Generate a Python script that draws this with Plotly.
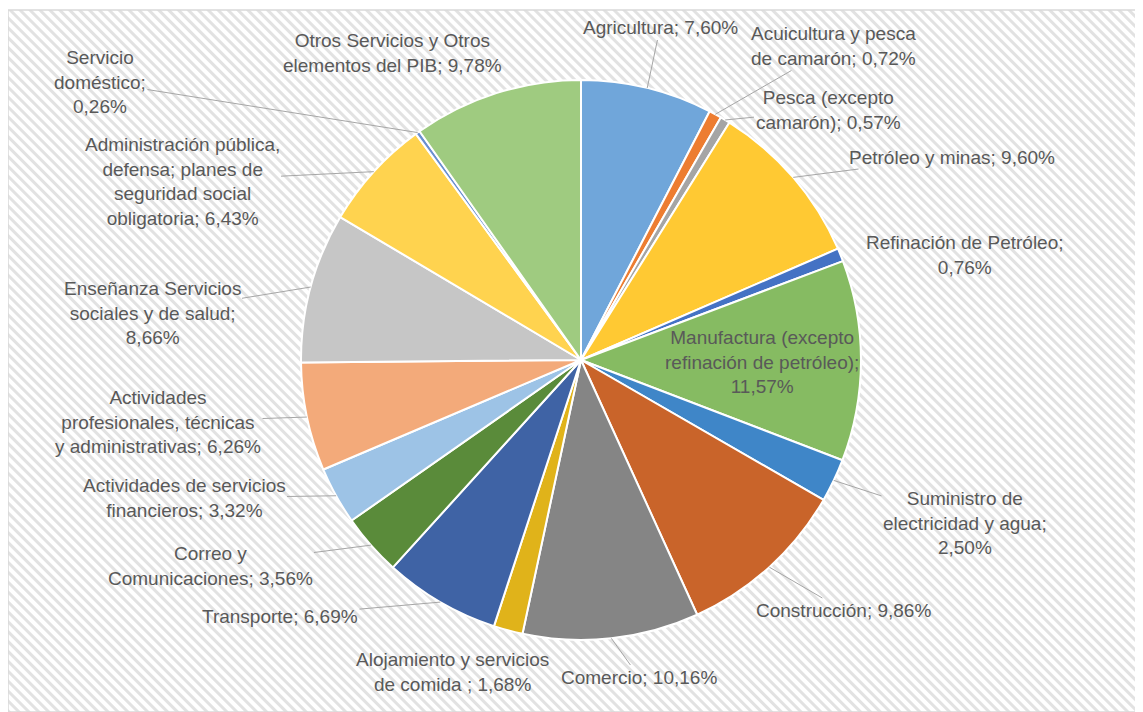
import math
import base64
import plotly.graph_objects as go

# ---------------- data ----------------
categories = [
    "Agricultura",
    "Acuicultura y pesca de camarón",
    "Pesca (excepto camarón)",
    "Petróleo y minas",
    "Refinación de Petróleo",
    "Manufactura (excepto refinación de petróleo)",
    "Suministro de electricidad y agua",
    "Construcción",
    "Comercio",
    "Alojamiento y servicios de comida",
    "Transporte",
    "Correo y Comunicaciones",
    "Actividades de servicios financieros",
    "Actividades profesionales, técnicas y administrativas",
    "Enseñanza Servicios sociales y de salud",
    "Administración pública, defensa; planes de seguridad social obligatoria",
    "Servicio doméstico",
    "Otros Servicios y Otros elementos del PIB",
]
values = [7.60, 0.72, 0.57, 9.60, 0.76, 11.57, 2.50, 9.86, 10.16, 1.68,
          6.69, 3.56, 3.32, 6.26, 8.66, 6.43, 0.26, 9.78]

# wrapped label text ({v} = formatted value)
label_templates = [
    "Agricultura; {v}",
    "Acuicultura y pesca<br>de camarón; {v}",
    "Pesca (excepto<br>camarón); {v}",
    "Petróleo y minas; {v}",
    "Refinación de Petróleo;<br>{v}",
    "Manufactura (excepto<br>refinación de petróleo);<br>{v}",
    "Suministro de<br>electricidad y agua;<br>{v}",
    "Construcción; {v}",
    "Comercio; {v}",
    "Alojamiento y servicios<br>de comida ; {v}",
    "Transporte; {v}",
    "Correo y<br>Comunicaciones; {v}",
    "Actividades de servicios<br>financieros; {v}",
    "Actividades<br>profesionales, técnicas<br>y administrativas; {v}",
    "Enseñanza Servicios<br>sociales y de salud;<br>{v}",
    "Administración pública,<br>defensa; planes de<br>seguridad social<br>obligatoria; {v}",
    "Servicio<br>doméstico;<br>{v}",
    "Otros Servicios y Otros<br>elementos del PIB; {v}",
]

# ---------------- styles / layout ----------------
colors = ["#70a6da", "#ED7D31", "#A5A5A5", "#FFC933", "#4472C4", "#86bb62",
          "#3f86c8", "#c9642a", "#858585", "#e0b31a", "#3f63a5", "#5a8b3a",
          "#9dc3e6", "#f3aa7a", "#c6c6c6", "#ffd34f", "#698ED0", "#9fcb80"]

# page coordinates (the html body adds an 8px margin)
OFF = 8
PW, PH = 1143, 712
W, H = PW - OFF, PH - OFF
CX, CY, R = 581, 360, 280


def px(x):
    return (x - OFF) / W


def py(y):
    return 1 - (y - OFF) / H


# label centres in page pixels and whether a leader line is drawn
label_pos = [
    (660, 28, True), (834, 46, True), (828, 110, True), (952, 157, True),
    (965, 255, False), (762, 362, False), (965, 523, True), (843, 610, True),
    (639, 677, True), (452, 672, False), (280, 616, True), (210, 566, True),
    (184, 498, True), (158, 422, True), (152, 313, True), (182, 181, True),
    (100, 82, True), (392, 53, False),
]

FONT = dict(family="Liberation Sans Narrow, Liberation Sans, Arial, sans-serif",
            size=19, color="#595959")

fig = go.Figure()
fig.add_trace(go.Pie(
    labels=categories, values=values, sort=False, direction="clockwise",
    rotation=0, textinfo="none", showlegend=False,
    marker=dict(colors=colors, line=dict(color="white", width=2)),
    domain=dict(x=[px(CX - R), px(CX + R)], y=[py(CY + R), py(CY - R)]),
))

total = sum(values)
cum = 0.0
annotations = []
for cat, v, tmpl, (lx, ly, arrow) in zip(categories, values, label_templates, label_pos):
    mid = (cum + v / 2) / total * 2 * math.pi
    cum += v
    hx = CX + R * math.sin(mid)
    hy = CY - R * math.cos(mid)
    text = tmpl.format(v=f"{v:.2f}".replace(".", ",") + "%")
    if arrow:
        annotations.append(dict(
            x=px(hx), y=py(hy), xref="paper", yref="paper",
            ax=lx - hx, ay=ly - hy, axref="pixel", ayref="pixel",
            text=text, showarrow=True, arrowhead=0, arrowwidth=1,
            arrowcolor="#a6a6a6", standoff=0, startstandoff=0,
            font=FONT, align="center"))
    else:
        annotations.append(dict(
            x=px(lx), y=py(ly), xref="paper", yref="paper",
            xanchor="center", yanchor="middle", text=text, showarrow=False,
            font=FONT, align="center"))

# hatched background
bw, bh = PW - 8, PH - 10
svg = (f'<svg xmlns="http://www.w3.org/2000/svg" width="{bw}" height="{bh}">'
       '<defs><pattern id="p" width="7" height="7" patternUnits="userSpaceOnUse" '
       'patternTransform="rotate(-45)"><rect width="7" height="7" fill="#ffffff"/>'
       '<rect width="3" height="7" fill="#e2e2e2"/></pattern></defs>'
       '<rect width="100%" height="100%" fill="url(#p)"/></svg>')
src = "data:image/svg+xml;base64," + base64.b64encode(svg.encode()).decode()

fig.update_layout(
    width=W, height=H, margin=dict(l=0, r=0, t=0, b=0),
    paper_bgcolor="white", plot_bgcolor="white",
    annotations=annotations,
    images=[dict(source=src, xref="paper", yref="paper", x=px(8), y=py(10),
                 sizex=bw / W, sizey=bh / H, xanchor="left", yanchor="top",
                 sizing="stretch", layer="below")],
    shapes=[dict(type="rect", xref="paper", yref="paper", x0=px(8), x1=1.0,
                 y0=0, y1=py(10), line=dict(color="#d9d9d9", width=1.5))],
)

fig.write_html("out.html")
